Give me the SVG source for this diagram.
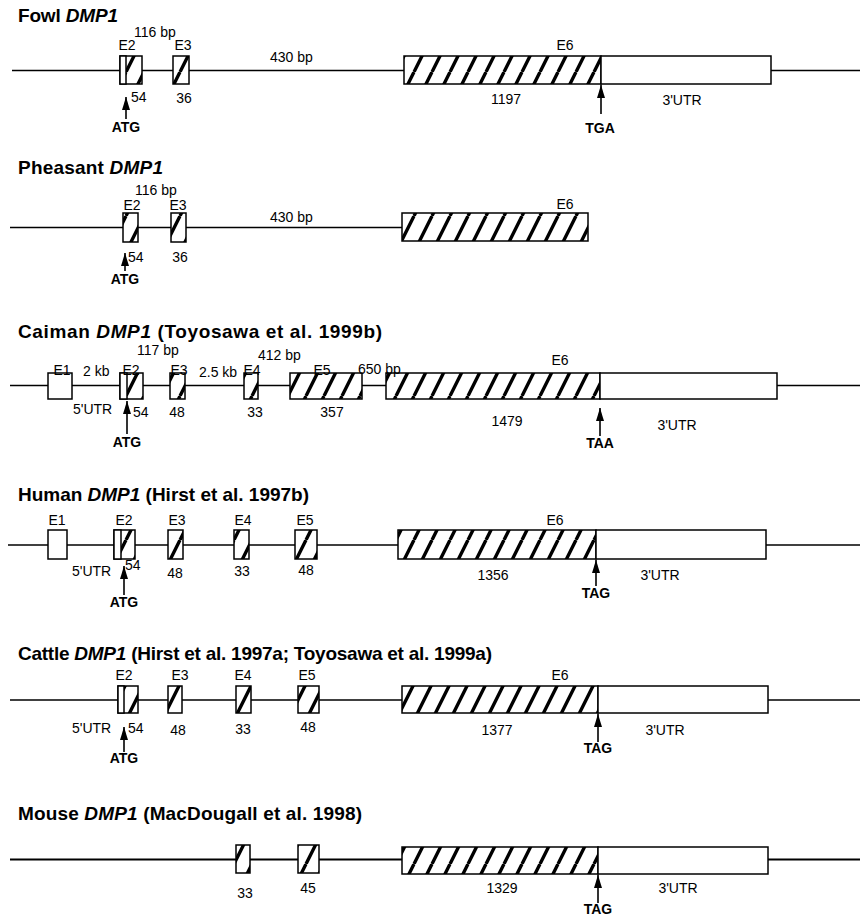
<svg xmlns="http://www.w3.org/2000/svg" width="860" height="916" viewBox="0 0 860 916">
<style>
text{font-family:"Liberation Sans",Arial,sans-serif;fill:#000}
.t{font-size:19px;font-weight:bold}
.t tspan.i{font-style:italic}
.l{font-size:14px}
.c{text-anchor:middle}
.b{font-size:14px;font-weight:bold;text-anchor:middle}
.ln{stroke:#000;stroke-width:1.7;fill:none}
.ex{fill:#fff;stroke:#000;stroke-width:1.5}
.h{fill:url(#hatch);stroke:#000;stroke-width:1.5}
.ar{stroke:#000;stroke-width:1.6;marker-end:url(#ah)}
</style>
<defs>
<pattern id="hatch" patternUnits="userSpaceOnUse" width="18" height="36">
<rect width="18" height="36" fill="#fff"/>
<path d="M0,36 L18,0 M-18,36 L0,0 M18,36 L36,0" stroke="#000" stroke-width="3.4"/>
</pattern>
<marker id="ah" markerUnits="userSpaceOnUse" markerWidth="13" markerHeight="8" refX="13" refY="4" orient="auto">
<path d="M0,0 L13,4 L0,8 z" fill="#000"/>
</marker>
</defs>
<rect width="860" height="916" fill="#fff"/>

<g id="fowl">
<text class="t" x="18" y="22" textLength="100" lengthAdjust="spacing">Fowl <tspan class="i">DMP1</tspan></text>
<line class="ln" x1="12" y1="70.5" x2="860" y2="70.5"/>
<rect class="h" x="120" y="56" width="22" height="28"/>
<rect class="ex" x="120" y="56" width="6" height="28"/>
<rect class="h" x="173" y="56" width="16" height="28"/>
<rect class="h" x="404" y="56" width="197" height="28"/>
<rect class="ex" x="601" y="56" width="170" height="28"/>
<text class="l c" x="127" y="50">E2</text>
<text class="l" x="134" y="37">116 bp</text>
<text class="l c" x="183" y="50">E3</text>
<text class="l" x="270" y="62">430 bp</text>
<text class="l c" x="565" y="50">E6</text>
<text class="l" x="131" y="102">54</text>
<text class="l c" x="184" y="103">36</text>
<text class="l c" x="506" y="104">1197</text>
<text class="l c" x="682" y="105">3'UTR</text>
<text class="b" x="126" y="132">ATG</text>
<text class="b" x="600" y="133">TGA</text>
</g>

<g id="pheasant">
<text class="t" x="18" y="174" textLength="145" lengthAdjust="spacing">Pheasant <tspan class="i">DMP1</tspan></text>
<line class="ln" x1="10" y1="227.5" x2="402" y2="227.5"/>
<rect class="h" x="123" y="213" width="15" height="29"/>
<rect class="h" x="171" y="213" width="15" height="29"/>
<rect class="h" x="402" y="213" width="186" height="28"/>
<text class="l" x="135" y="195">116 bp</text>
<text class="l c" x="132" y="210">E2</text>
<text class="l c" x="178" y="210">E3</text>
<text class="l" x="270" y="222">430 bp</text>
<text class="l c" x="565" y="209">E6</text>
<text class="l" x="128" y="262">54</text>
<text class="l c" x="180" y="262">36</text>
<text class="b" x="125" y="284">ATG</text>
</g>

<g id="caiman">
<text class="t" x="18" y="338" textLength="364" lengthAdjust="spacing">Caiman <tspan class="i">DMP1</tspan> (Toyosawa et al. 1999b)</text>
<line class="ln" x1="10" y1="385.5" x2="860" y2="385.5"/>
<rect class="ex" x="48" y="373" width="24" height="26"/>
<rect class="h" x="120" y="373" width="23" height="26"/>
<rect class="ex" x="120" y="373" width="7" height="26"/>
<rect class="h" x="170" y="373" width="15" height="26"/>
<rect class="h" x="244" y="373" width="14" height="26"/>
<rect class="h" x="290" y="373" width="72" height="26"/>
<rect class="h" x="386" y="373" width="214" height="26"/>
<rect class="ex" x="600" y="373" width="177" height="26"/>
<text class="l c" x="62" y="375">E1</text>
<text class="l" x="83" y="376">2 kb</text>
<text class="l" x="137" y="355">117 bp</text>
<text class="l c" x="131" y="375">E2</text>
<text class="l c" x="179" y="375">E3</text>
<text class="l" x="199" y="377">2.5 kb</text>
<text class="l c" x="252" y="375">E4</text>
<text class="l" x="258" y="360">412 bp</text>
<text class="l c" x="322" y="375">E5</text>
<text class="l" x="358" y="374">650 bp</text>
<text class="l c" x="560" y="365">E6</text>
<text class="l" x="73" y="414">5'UTR</text>
<text class="l" x="133" y="417">54</text>
<text class="l c" x="177" y="417">48</text>
<text class="l c" x="255" y="417">33</text>
<text class="l c" x="332" y="417">357</text>
<text class="l c" x="507" y="426">1479</text>
<text class="l c" x="677" y="430">3'UTR</text>
<text class="b" x="127" y="447">ATG</text>
<text class="b" x="600" y="448">TAA</text>
</g>

<g id="human">
<text class="t" x="18" y="501" textLength="291" lengthAdjust="spacing">Human <tspan class="i">DMP1</tspan> (Hirst et al. 1997b)</text>
<line class="ln" x1="8" y1="545" x2="860" y2="545"/>
<rect class="ex" x="48" y="530" width="19" height="29"/>
<rect class="h" x="114" y="530" width="21" height="29"/>
<rect class="ex" x="114" y="530" width="7" height="29"/>
<rect class="h" x="168" y="530" width="15" height="29"/>
<rect class="h" x="234" y="530" width="15" height="29"/>
<rect class="h" x="295" y="530" width="22" height="29"/>
<rect class="h" x="398" y="530" width="198" height="29"/>
<rect class="ex" x="596" y="530" width="170" height="29"/>
<text class="l c" x="57" y="525">E1</text>
<text class="l c" x="124" y="525">E2</text>
<text class="l c" x="177" y="525">E3</text>
<text class="l c" x="243" y="525">E4</text>
<text class="l c" x="305" y="525">E5</text>
<text class="l c" x="555" y="525">E6</text>
<text class="l" x="72" y="576">5'UTR</text>
<text class="l" x="125" y="570">54</text>
<text class="l c" x="175" y="578">48</text>
<text class="l c" x="242" y="576">33</text>
<text class="l c" x="306" y="575">48</text>
<text class="l c" x="493" y="580">1356</text>
<text class="l c" x="660" y="580">3'UTR</text>
<text class="b" x="124" y="607">ATG</text>
<text class="b" x="596" y="598">TAG</text>
</g>

<g id="cattle">
<text class="t" x="18" y="660" textLength="474" lengthAdjust="spacing">Cattle <tspan class="i">DMP1</tspan> (Hirst et al. 1997a; Toyosawa et al. 1999a)</text>
<line class="ln" x1="10" y1="700" x2="860" y2="700"/>
<rect class="h" x="118" y="686" width="20" height="27"/>
<rect class="ex" x="118" y="686" width="6" height="27"/>
<rect class="h" x="168" y="686" width="14" height="27"/>
<rect class="h" x="236" y="686" width="15" height="27"/>
<rect class="h" x="298" y="686" width="21" height="27"/>
<rect class="h" x="402" y="686" width="196" height="27"/>
<rect class="ex" x="598" y="686" width="170" height="27"/>
<text class="l c" x="124" y="680">E2</text>
<text class="l c" x="180" y="680">E3</text>
<text class="l c" x="243" y="680">E4</text>
<text class="l c" x="307" y="680">E5</text>
<text class="l c" x="560" y="680">E6</text>
<text class="l" x="72" y="733">5'UTR</text>
<text class="l" x="128" y="733">54</text>
<text class="l c" x="178" y="735">48</text>
<text class="l c" x="243" y="734">33</text>
<text class="l c" x="308" y="732">48</text>
<text class="l c" x="497" y="735">1377</text>
<text class="l c" x="665" y="735">3'UTR</text>
<text class="b" x="124" y="763">ATG</text>
<text class="b" x="598" y="753">TAG</text>
</g>

<g id="mouse">
<text class="t" x="18" y="820" textLength="344" lengthAdjust="spacing">Mouse <tspan class="i">DMP1</tspan> (MacDougall et al. 1998)</text>
<line class="ln" x1="10" y1="859.5" x2="860" y2="859.5" style="stroke-width:2"/>
<rect class="h" x="236" y="845" width="14" height="28"/>
<rect class="h" x="298" y="845" width="21" height="28"/>
<rect class="h" x="402" y="847" width="196" height="27"/>
<rect class="ex" x="598" y="847" width="170" height="27"/>
<text class="l c" x="245" y="898">33</text>
<text class="l c" x="308" y="893">45</text>
<text class="l c" x="502" y="893">1329</text>
<text class="l c" x="678" y="893">3'UTR</text>
<text class="b" x="598" y="914">TAG</text>
</g>

<g id="connectors">
<line class="ar" x1="126" y1="119" x2="126" y2="97"/>
<line class="ar" x1="601" y1="114" x2="601" y2="85"/>
<line class="ar" x1="125" y1="271" x2="125" y2="253"/>
<line class="ar" x1="127" y1="434" x2="127" y2="401"/>
<line class="ar" x1="600" y1="436" x2="600" y2="408"/>
<line class="ar" x1="124" y1="595" x2="124" y2="566"/>
<line class="ar" x1="596" y1="586" x2="596" y2="560"/>
<line class="ar" x1="124" y1="752" x2="124" y2="727"/>
<line class="ar" x1="598" y1="742" x2="598" y2="714"/>
<line class="ar" x1="598" y1="903" x2="598" y2="875"/>
</g>
</svg>
